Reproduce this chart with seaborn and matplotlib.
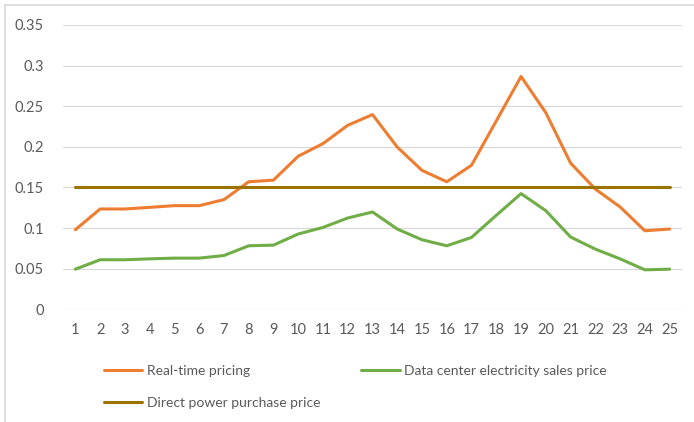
import matplotlib
matplotlib.use("Agg")
import matplotlib.pyplot as plt
import seaborn as sns
import pandas as pd
from matplotlib.lines import Line2D

hours = list(range(1, 26))
real_time = [0.098, 0.1235, 0.1235, 0.1255, 0.1276, 0.1276, 0.135, 0.157, 0.159, 0.1885,
             0.204, 0.2265, 0.2397, 0.1997, 0.171, 0.157, 0.1774, 0.232, 0.2866, 0.242,
             0.180, 0.148, 0.126, 0.0967, 0.0988]
data_center = [0.0494, 0.061, 0.061, 0.0621, 0.063, 0.063, 0.0662, 0.0782, 0.079, 0.0927,
               0.1008, 0.1124, 0.1198, 0.0988, 0.0856, 0.0782, 0.0885, 0.1157, 0.1424, 0.1214,
               0.089, 0.0741, 0.0621, 0.0486, 0.0494]
direct = [0.15] * 25
series_names = ["Real-time pricing", "Data center electricity sales price", "Direct power purchase price"]
y_ticks = [0, 0.05, 0.1, 0.15, 0.2, 0.25, 0.3, 0.35]
y_tick_labels = ["0", "0.05", "0.1", "0.15", "0.2", "0.25", "0.3", "0.35"]

colors = {"Real-time pricing": "#ED7D31",
          "Data center electricity sales price": "#70AD47",
          "Direct power purchase price": "#9C7300"}

df = pd.concat([
    pd.DataFrame({"hour": hours, "price": real_time, "series": series_names[0]}),
    pd.DataFrame({"hour": hours, "price": data_center, "series": series_names[1]}),
    pd.DataFrame({"hour": hours, "price": direct, "series": series_names[2]}),
])

sns.set_style("white")
plt.rcParams['font.family'] = ['Lato', 'DejaVu Sans']

fig = plt.figure(figsize=(6.94, 4.22), dpi=100)
ax = fig.add_axes([63/694, 1-309.3/422, (682-63)/694, (309.3-25)/422])

sns.lineplot(data=df, x="hour", y="price", hue="series", palette=colors,
             hue_order=series_names, linewidth=2.2, ax=ax, legend=False, zorder=3)

ax.set_xlim(0.5, 25.5)
ax.set_ylim(0, 0.35)
ax.set_yticks(y_ticks)
ax.set_yticklabels(y_tick_labels)
ax.set_xticks(hours)
ax.set_xticklabels([str(h) for h in hours])
ax.grid(axis="y", color="#D9D9D9", linewidth=0.9, zorder=0)
ax.grid(axis="x", visible=False)
for s in ax.spines.values():
    s.set_visible(False)
ax.tick_params(axis="both", length=0, labelsize=10.5, labelcolor="#595959")
ax.tick_params(axis="y", pad=14)
ax.tick_params(axis="x", pad=10)
ax.set_xlabel("")
ax.set_ylabel("")

# legend: column1 = Real-time, Direct; column2 = Data center
order = [series_names[0], series_names[2], series_names[1]]
handles = [Line2D([], [], color=colors[n], linewidth=2.2) for n in order]
leg = fig.legend(handles, order, loc="upper left", ncol=2,
                 bbox_to_anchor=(98/694, 1-359/422), frameon=False,
                 fontsize=10, handlelength=2.8, handletextpad=0.3,
                 columnspacing=2.95, labelspacing=1.45, borderaxespad=0)
for t in leg.get_texts():
    t.set_color("#595959")

# chart border (left and top)
fig.add_artist(Line2D([4.5/694, 4.5/694], [0, 1-4.5/422], color="#D9D9D9", linewidth=1.2))
fig.add_artist(Line2D([4.5/694, 1], [1-4.5/422, 1-4.5/422], color="#D9D9D9", linewidth=1.2))

fig.savefig("out.png", dpi=100)
